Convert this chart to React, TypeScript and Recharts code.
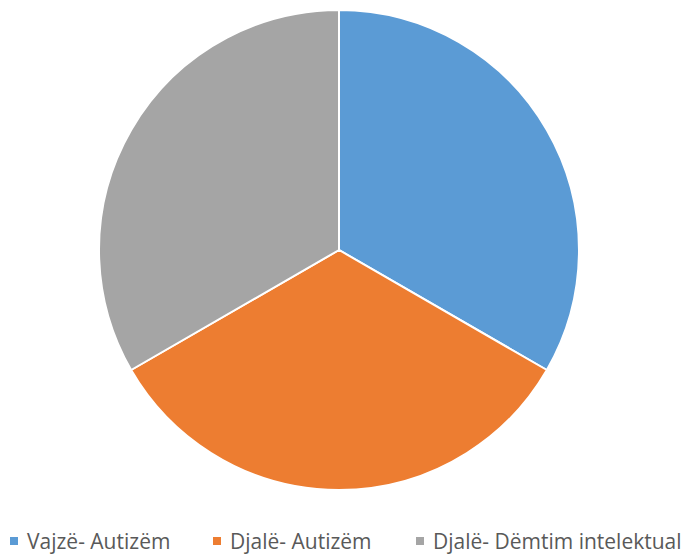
import { PieChart, Pie, Cell, Legend } from 'recharts';

const categories = ['Vajzë- Autizëm', 'Djalë- Autizëm', 'Djalë- Dëmtim intelektual'];
const values = [1, 1, 1];
const colors = ['#5B9BD5', '#ED7D31', '#A5A5A5'];
const legendX = [10, 213, 416];

const data = categories.map((name, i) => ({ name, value: values[i] }));

const renderLegend = () => (
  <div style={{ position: 'relative', width: 684, height: 30 }}>
    {categories.map((name, i) => (
      <div
        key={name}
        style={{
          position: 'absolute',
          left: legendX[i],
          top: 0,
          display: 'flex',
          alignItems: 'center',
          whiteSpace: 'nowrap',
        }}
      >
        <span style={{ width: 8, height: 8, background: colors[i], display: 'inline-block', marginRight: 9 }} />
        <span style={{ fontFamily: '"Open Sans", sans-serif', fontSize: 21, color: '#595959' }}>{name}</span>
      </div>
    ))}
  </div>
);

export default function App() {
  return (
    <div style={{ position: 'absolute', left: 0, top: 0, background: '#fff' }}>
      <PieChart width={684} height={556} margin={{ top: 0, right: 0, bottom: 0, left: 0 }}>
        <Pie
          data={data}
          dataKey="value"
          nameKey="name"
          cx={339}
          cy={250}
          outerRadius={240}
          startAngle={90}
          endAngle={-270}
          stroke="#fff"
          strokeWidth={2}
          isAnimationActive={false}
        >
          {data.map((d, i) => (
            <Cell key={d.name} fill={colors[i]} />
          ))}
        </Pie>
        <Legend content={renderLegend} wrapperStyle={{ position: 'absolute', left: 0, top: 527, width: 684 }} />
      </PieChart>
    </div>
  );
}
